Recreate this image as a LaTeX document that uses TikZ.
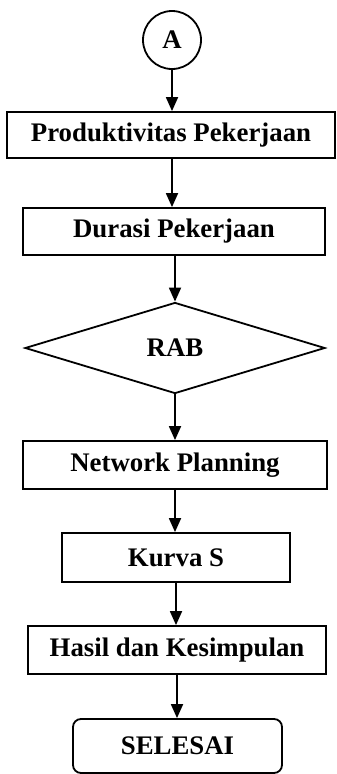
\documentclass[tikz,border=0pt]{standalone}
\usepackage{fontspec}
\setmainfont{Liberation Serif}
\usepackage{tikz}
\usetikzlibrary{shapes.geometric,arrows.meta}

\tikzset{
  box/.style={draw, line width=1.8pt, rectangle, inner sep=0pt,
    font=\fontsize{26.8}{30}\selectfont\bfseries},
  term/.style={box, rounded corners=8pt},
  decision/.style={box, diamond, aspect=3.3},
  conn/.style={box, circle},
  arr/.style={line width=1.8pt, -{Triangle[length=14pt,width=12pt]}}
}

\begin{document}
\begin{tikzpicture}[x=1pt, y=-1pt]
  \useasboundingbox (0,0) rectangle (337,774);

  \node[conn, minimum size=58pt] (a) at (172,40) {A};
  \node[box, minimum width=328pt, minimum height=46pt] (prod) at (171,135) {Produktivitas Pekerjaan};
  \node[box, minimum width=302pt, minimum height=47pt] (durasi) at (174,231.5) {Durasi Pekerjaan};
  \node[decision, minimum width=300pt, minimum height=91pt] (rab) at (175,348) {RAB};
  \node[box, minimum width=304pt, minimum height=48pt] (network) at (175,465) {Network Planning};
  \node[box, minimum width=228pt, minimum height=49pt] (kurva) at (176,557.5) {Kurva S};
  \node[box, minimum width=298pt, minimum height=48pt] (hasil) at (177,650) {Hasil dan Kesimpulan};
  \node[term, minimum width=209pt, minimum height=54pt] (selesai) at (177.5,746) {SELESAI};

  % alur
  \draw[arr] (a.south) -- (a.south |- prod.north);
  \draw[arr] (a.south |- prod.south) -- (a.south |- durasi.north);
  \draw[arr] (rab.north |- durasi.south) -- (rab.north);
  \draw[arr] (rab.south) -- (rab.south |- network.north);
  \draw[arr] (network.south) -- (network.south |- kurva.north);
  \draw[arr] (kurva.south) -- (kurva.south |- hasil.north);
  \draw[arr] (hasil.south) -- (hasil.south |- selesai.north);
\end{tikzpicture}
\end{document}
